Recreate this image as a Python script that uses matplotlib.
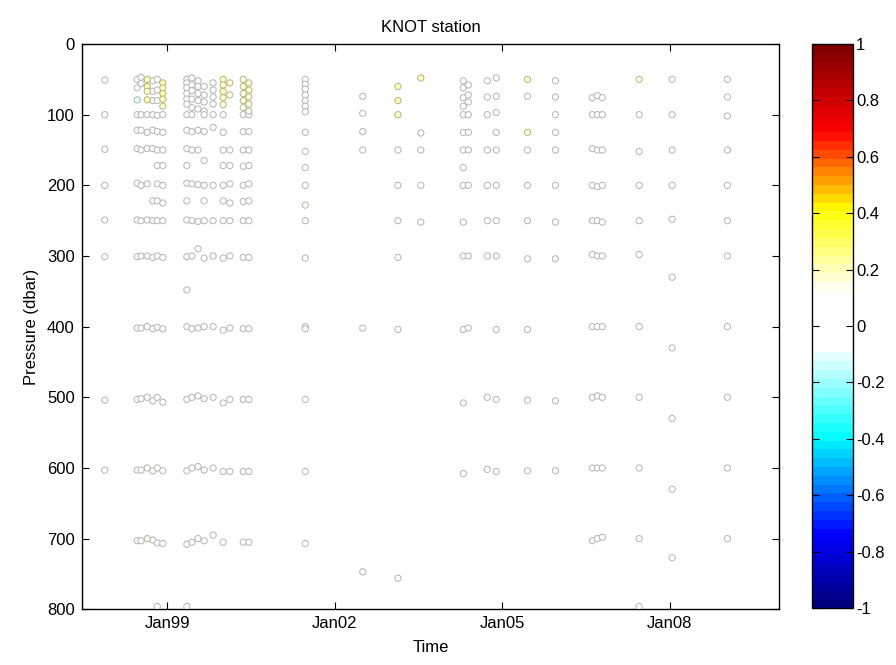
import numpy as np
import matplotlib
matplotlib.use("Agg")
import matplotlib.pyplot as plt
from matplotlib.colors import LinearSegmentedColormap, Normalize
from matplotlib.cm import ScalarMappable

plt.rcParams['font.family'] = ['Liberation Sans', 'DejaVu Sans']

# ---------------- data ----------------
# cruise times in decimal years
cruise_times = [1997.88,
                1998.46, 1998.53, 1998.64, 1998.74, 1998.82, 1998.92,
                1999.35, 1999.44, 1999.55, 1999.66, 1999.82,
                2000.00, 2000.12, 2000.36, 2000.46,
                2001.47, 2002.50, 2003.13, 2003.54,
                2004.30, 2004.39, 2004.73, 2004.89,
                2005.45, 2005.95,
                2006.61, 2006.70, 2006.79,
                2007.45, 2008.04, 2009.03]

# sampled pressures (dbar) of the near-zero (grey) points, one list per cruise
cruise_pressures = [
    [51, 100, 149, 200, 249, 301, 504, 603],
    [50, 62, 100, 122, 148, 197, 249, 301, 402, 503, 603, 703],
    [47, 56, 100, 122, 150, 200, 250, 300, 402, 502, 603, 703],
    [100, 125, 148, 198, 249, 300, 400, 500],
    [52, 67, 80, 100, 122, 148, 222, 250, 302, 403, 505, 604, 702],
    [50, 65, 80, 101, 124, 150, 172, 198, 222, 250, 300, 401, 500, 600, 706, 796],
    [100, 125, 150, 172, 200, 225, 250, 302, 403, 507, 604, 707],
    [50, 55, 62, 70, 78, 85, 100, 122, 148, 172, 197, 222, 249, 301, 348, 400, 503, 604, 708, 796],
    [48, 58, 66, 78, 90, 100, 124, 150, 198, 250, 300, 403, 500, 600, 705],
    [52, 60, 70, 80, 92, 122, 150, 199, 251, 290, 402, 498, 598, 700],
    [60, 72, 82, 95, 100, 124, 165, 200, 222, 250, 303, 400, 502, 603, 703],
    [55, 65, 75, 85, 100, 118, 200, 250, 300, 400, 500, 600, 695],
    [100, 125, 150, 172, 200, 222, 250, 303, 405, 508, 605, 705],
    [150, 172, 198, 225, 250, 300, 402, 503, 605],
    [100, 124, 150, 173, 200, 223, 250, 302, 403, 503, 605, 705],
    [100, 124, 150, 172, 198, 222, 250, 302, 403, 503, 605, 705],
    [50, 57, 64, 72, 80, 88, 96, 125, 152, 175, 200, 250, 303, 400, 403, 503, 605, 707],
    [74, 98, 124, 150, 402, 747],
    [150, 200, 250, 302, 404, 756],
    [126, 150, 200, 252],
    [52, 62, 76, 88, 100, 125, 150, 175, 200, 252, 300, 404, 508, 608],
    [58, 72, 82, 100, 125, 150, 200, 300, 402],
    [52, 75, 100, 150, 200, 250, 300, 500, 602],
    [48, 74, 97, 125, 150, 200, 250, 300, 404, 503, 605],
    [74, 150, 200, 250, 304, 404, 504, 604],
    [52, 75, 100, 125, 150, 200, 252, 304, 505, 604],
    [76, 100, 148, 200, 250, 298, 400, 500, 600, 703],
    [73, 100, 150, 202, 250, 300, 400, 498, 600, 700],
    [76, 100, 150, 200, 252, 300, 400, 500, 600, 698],
    [100, 152, 200, 250, 298, 400, 500, 600, 700, 796],
    [50, 100, 150, 200, 248, 330, 430, 530, 630],
    [50, 75, 102, 150, 200, 250, 300, 400, 500, 600, 700],
]
grey_value = 0.02

# points with a visible (non-zero) value
marked_cruise = [1, 3, 3, 3, 3, 3, 3, 6, 6, 6, 6, 6,
                 12, 12, 12, 12, 12, 13, 13,
                 14, 14, 14, 14, 14, 15, 15, 15, 15, 15,
                 16, 18, 18, 18, 19, 24, 24, 29, 30]
marked_pressure = [79, 50, 60, 67, 79, 600, 700, 55, 62, 70, 78, 88,
                   50, 58, 67, 76, 86, 55, 72,
                   50, 60, 70, 80, 90, 55, 65, 75, 85, 95,
                   228, 60, 80, 100, 48, 50, 125, 50, 727]
marked_value = [-0.15, 0.30, 0.32, 0.28, 0.30, 0.15, 0.18, 0.30, 0.28, 0.32, 0.30, 0.26,
                0.25, 0.28, 0.30, 0.27, 0.22, 0.22, 0.2,
                0.2, 0.22, 0.2, 0.22, 0.2, 0.22, 0.25, 0.22, 0.2, 0.18,
                0.15, 0.3, 0.3, 0.28, 0.3, 0.28, 0.22, 0.2, 0.1]

xtick_years = [1999, 2002, 2005, 2008]
xtick_labels = ['Jan99', 'Jan02', 'Jan05', 'Jan08']
cbar_ticks = [-1, -0.8, -0.6, -0.4, -0.2, 0, 0.2, 0.4, 0.6, 0.8, 1]
cbar_labels = ['-1', '-0.8', '-0.6', '-0.4', '-0.2', '0', '0.2', '0.4', '0.6', '0.8', '1']

# ---------------- colormap ----------------
cmap = LinearSegmentedColormap.from_list('knot', [
    (0.000, (0.0, 0.0, 0.5)),
    (0.125, (0.0, 0.0, 1.0)),
    (0.300, (0.0, 1.0, 1.0)),
    (0.460, (1.0, 1.0, 1.0)),
    (0.560, (1.0, 1.0, 1.0)),
    (0.710, (1.0, 1.0, 0.0)),
    (0.850, (1.0, 0.0, 0.0)),
    (1.000, (0.5, 0.0, 0.0)),
], N=64)
norm = Normalize(-1, 1)

# ---------------- assemble points ----------------
t_all, p_all, v_all = [], [], []
for t, plist in zip(cruise_times, cruise_pressures):
    for p in plist:
        t_all.append(t); p_all.append(p); v_all.append(grey_value)
for ci, p, v in zip(marked_cruise, marked_pressure, marked_value):
    t_all.append(cruise_times[ci]); p_all.append(p); v_all.append(v)
t_all = np.array(t_all); p_all = np.array(p_all); v_all = np.array(v_all)

col = cmap(norm(v_all))
face = col.copy()
face[:, :3] = 0.6 * 1.0 + 0.4 * col[:, :3]
edge = col.copy()
edge[:, :3] = 0.6 * 0.5 + 0.4 * col[:, :3]

# ---------------- figure ----------------
fig = plt.figure(figsize=(8.96, 6.65), dpi=100)
ax = fig.add_axes([0.0912, 0.0838, 0.7786, 0.8500])
cax = fig.add_axes([0.9059, 0.0857, 0.0464, 0.8481])

ax.scatter(t_all, p_all, s=20, facecolors=face, edgecolors=edge, linewidths=0.7, zorder=3)

ax.set_xlim(1997.467, 2009.96)
ax.set_ylim(800, 0)
ax.set_yticks(np.arange(0, 801, 100))
ax.set_xticks(xtick_years)
ax.set_xticklabels(xtick_labels)
ax.tick_params(direction='in', top=True, right=True, length=5, width=0.8,
               labelsize=12, pad=5)
for s in ax.spines.values():
    s.set_linewidth(1.0)
ax.set_title('KNOT station', fontsize=12, pad=9)
ax.set_xlabel('Time', fontsize=12, labelpad=6)
ax.set_ylabel('Pressure (dbar)', fontsize=12, labelpad=6)

sm = ScalarMappable(norm=norm, cmap=cmap)
cb = fig.colorbar(sm, cax=cax)
cb.set_ticks(cbar_ticks)
cb.set_ticklabels(cbar_labels)
cax.tick_params(direction='in', left=True, right=True, length=5, width=0.8,
                labelsize=12, pad=2)
cb.outline.set_linewidth(1.0)

fig.savefig('out.png', dpi=100)
